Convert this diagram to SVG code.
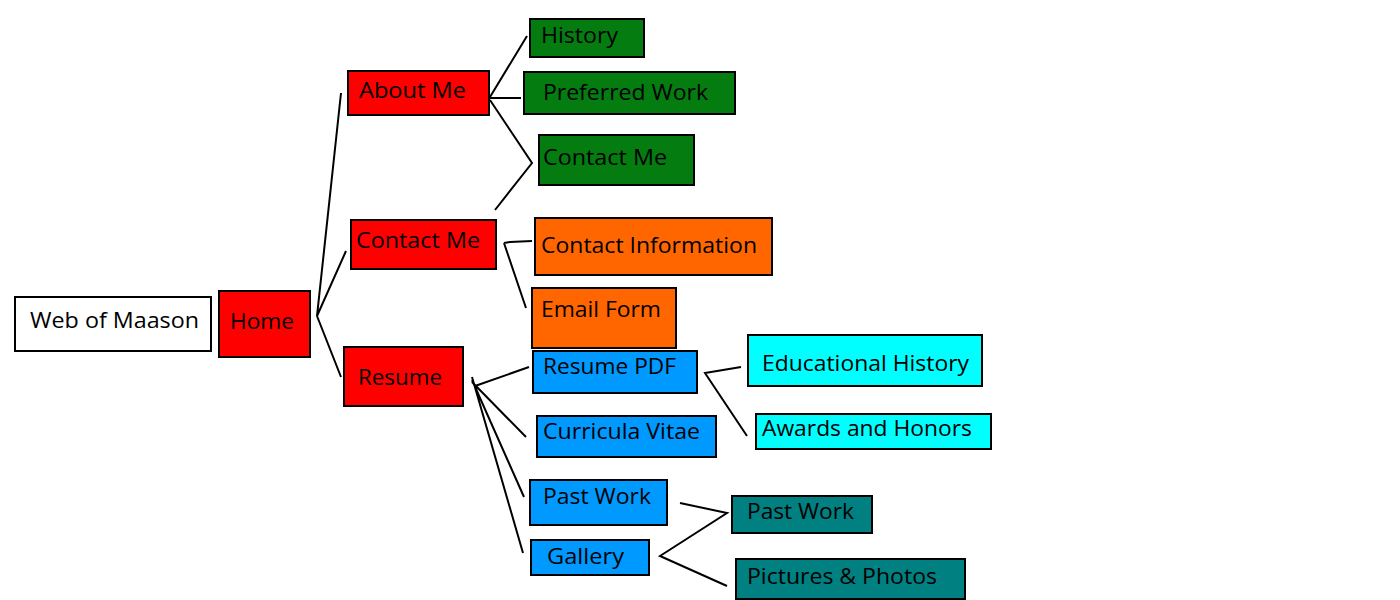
<svg xmlns="http://www.w3.org/2000/svg" width="1400" height="600" viewBox="0 0 1400 600">
<style>
rect{stroke:#000;stroke-width:2}
text{font-family:"Open Sans","Liberation Sans",sans-serif;font-size:22px;fill:#000}
.w{fill:#fff}.r{fill:#ff0000}.g{fill:#047c10}.o{fill:#ff6600}.b{fill:#0099ff}.c{fill:#00ffff}.t{fill:#008080}
#connectors path{fill:none;stroke:#000;stroke-width:2}
</style>
<rect width="1400" height="600" fill="#fff" style="stroke:none"/>
<g id="connectors">
<path d="M341,93 L317,316 L346,251 M317,316 L341,377"/>
<path d="M490,97 L527,36 M490,98 L521,98 M490,100 L532,163 L495,210"/>
<path d="M504,243 L510,242 L532,241 M504,243 L526,308"/>
<path d="M472,377 L523,553 M472,380 L524,497 M472,382 L526,437 M475,386 L529,367"/>
<path d="M741,367 L705,373 L747,436"/>
<path d="M680,503 L727,513 L660,556 L727,586"/>
</g>
<g id="web"><rect class="w" x="15" y="297" width="196" height="54"/><text x="30" y="328" textLength="169" lengthAdjust="spacingAndGlyphs">Web of Maason</text></g>
<g id="home"><rect class="r" x="219" y="291" width="91" height="66"/><text x="230" y="329" textLength="64" lengthAdjust="spacingAndGlyphs">Home</text></g>
<g id="about"><rect class="r" x="348" y="71" width="141" height="44"/><text x="359" y="98" textLength="107" lengthAdjust="spacingAndGlyphs">About Me</text></g>
<g id="contact"><rect class="r" x="351" y="220" width="145" height="49"/><text x="356" y="248" textLength="124" lengthAdjust="spacingAndGlyphs">Contact Me</text></g>
<g id="resume"><rect class="r" x="344" y="347" width="119" height="59"/><text x="358" y="385" textLength="84" lengthAdjust="spacingAndGlyphs">Resume</text></g>
<g id="history"><rect class="g" x="530" y="19" width="114" height="38"/><text x="541" y="43" textLength="77" lengthAdjust="spacingAndGlyphs">History</text></g>
<g id="preferred"><rect class="g" x="524" y="72" width="211" height="42"/><text x="543" y="100" textLength="165" lengthAdjust="spacingAndGlyphs">Preferred Work</text></g>
<g id="contactme2"><rect class="g" x="539" y="135" width="155" height="50"/><text x="543" y="165" textLength="124" lengthAdjust="spacingAndGlyphs">Contact Me</text></g>
<g id="contactinfo"><rect class="o" x="535" y="218" width="237" height="57"/><text x="541" y="253" textLength="216" lengthAdjust="spacingAndGlyphs">Contact Information</text></g>
<g id="email"><rect class="o" x="532" y="288" width="144" height="60"/><text x="541" y="317" textLength="120" lengthAdjust="spacingAndGlyphs">Email Form</text></g>
<g id="resumepdf"><rect class="b" x="533" y="351" width="164" height="42"/><text x="543" y="374" textLength="133" lengthAdjust="spacingAndGlyphs">Resume PDF</text></g>
<g id="cv"><rect class="b" x="537" y="416" width="179" height="41"/><text x="543" y="439" textLength="157" lengthAdjust="spacingAndGlyphs">Curricula Vitae</text></g>
<g id="pastwork"><rect class="b" x="530" y="480" width="137" height="45"/><text x="543" y="504" textLength="108" lengthAdjust="spacingAndGlyphs">Past Work</text></g>
<g id="gallery"><rect class="b" x="531" y="540" width="118" height="35"/><text x="547" y="564" textLength="77" lengthAdjust="spacingAndGlyphs">Gallery</text></g>
<g id="edu"><rect class="c" x="748" y="335" width="234" height="51"/><text x="762" y="371" textLength="207" lengthAdjust="spacingAndGlyphs">Educational History</text></g>
<g id="awards"><rect class="c" x="756" y="414" width="235" height="35"/><text x="762" y="436" textLength="210" lengthAdjust="spacingAndGlyphs">Awards and Honors</text></g>
<g id="pastwork2"><rect class="t" x="732" y="496" width="140" height="37"/><text x="747" y="519" textLength="107" lengthAdjust="spacingAndGlyphs">Past Work</text></g>
<g id="pictures"><rect class="t" x="736" y="559" width="229" height="40"/><text x="747" y="584" textLength="190" lengthAdjust="spacingAndGlyphs">Pictures &amp; Photos</text></g>
</svg>
